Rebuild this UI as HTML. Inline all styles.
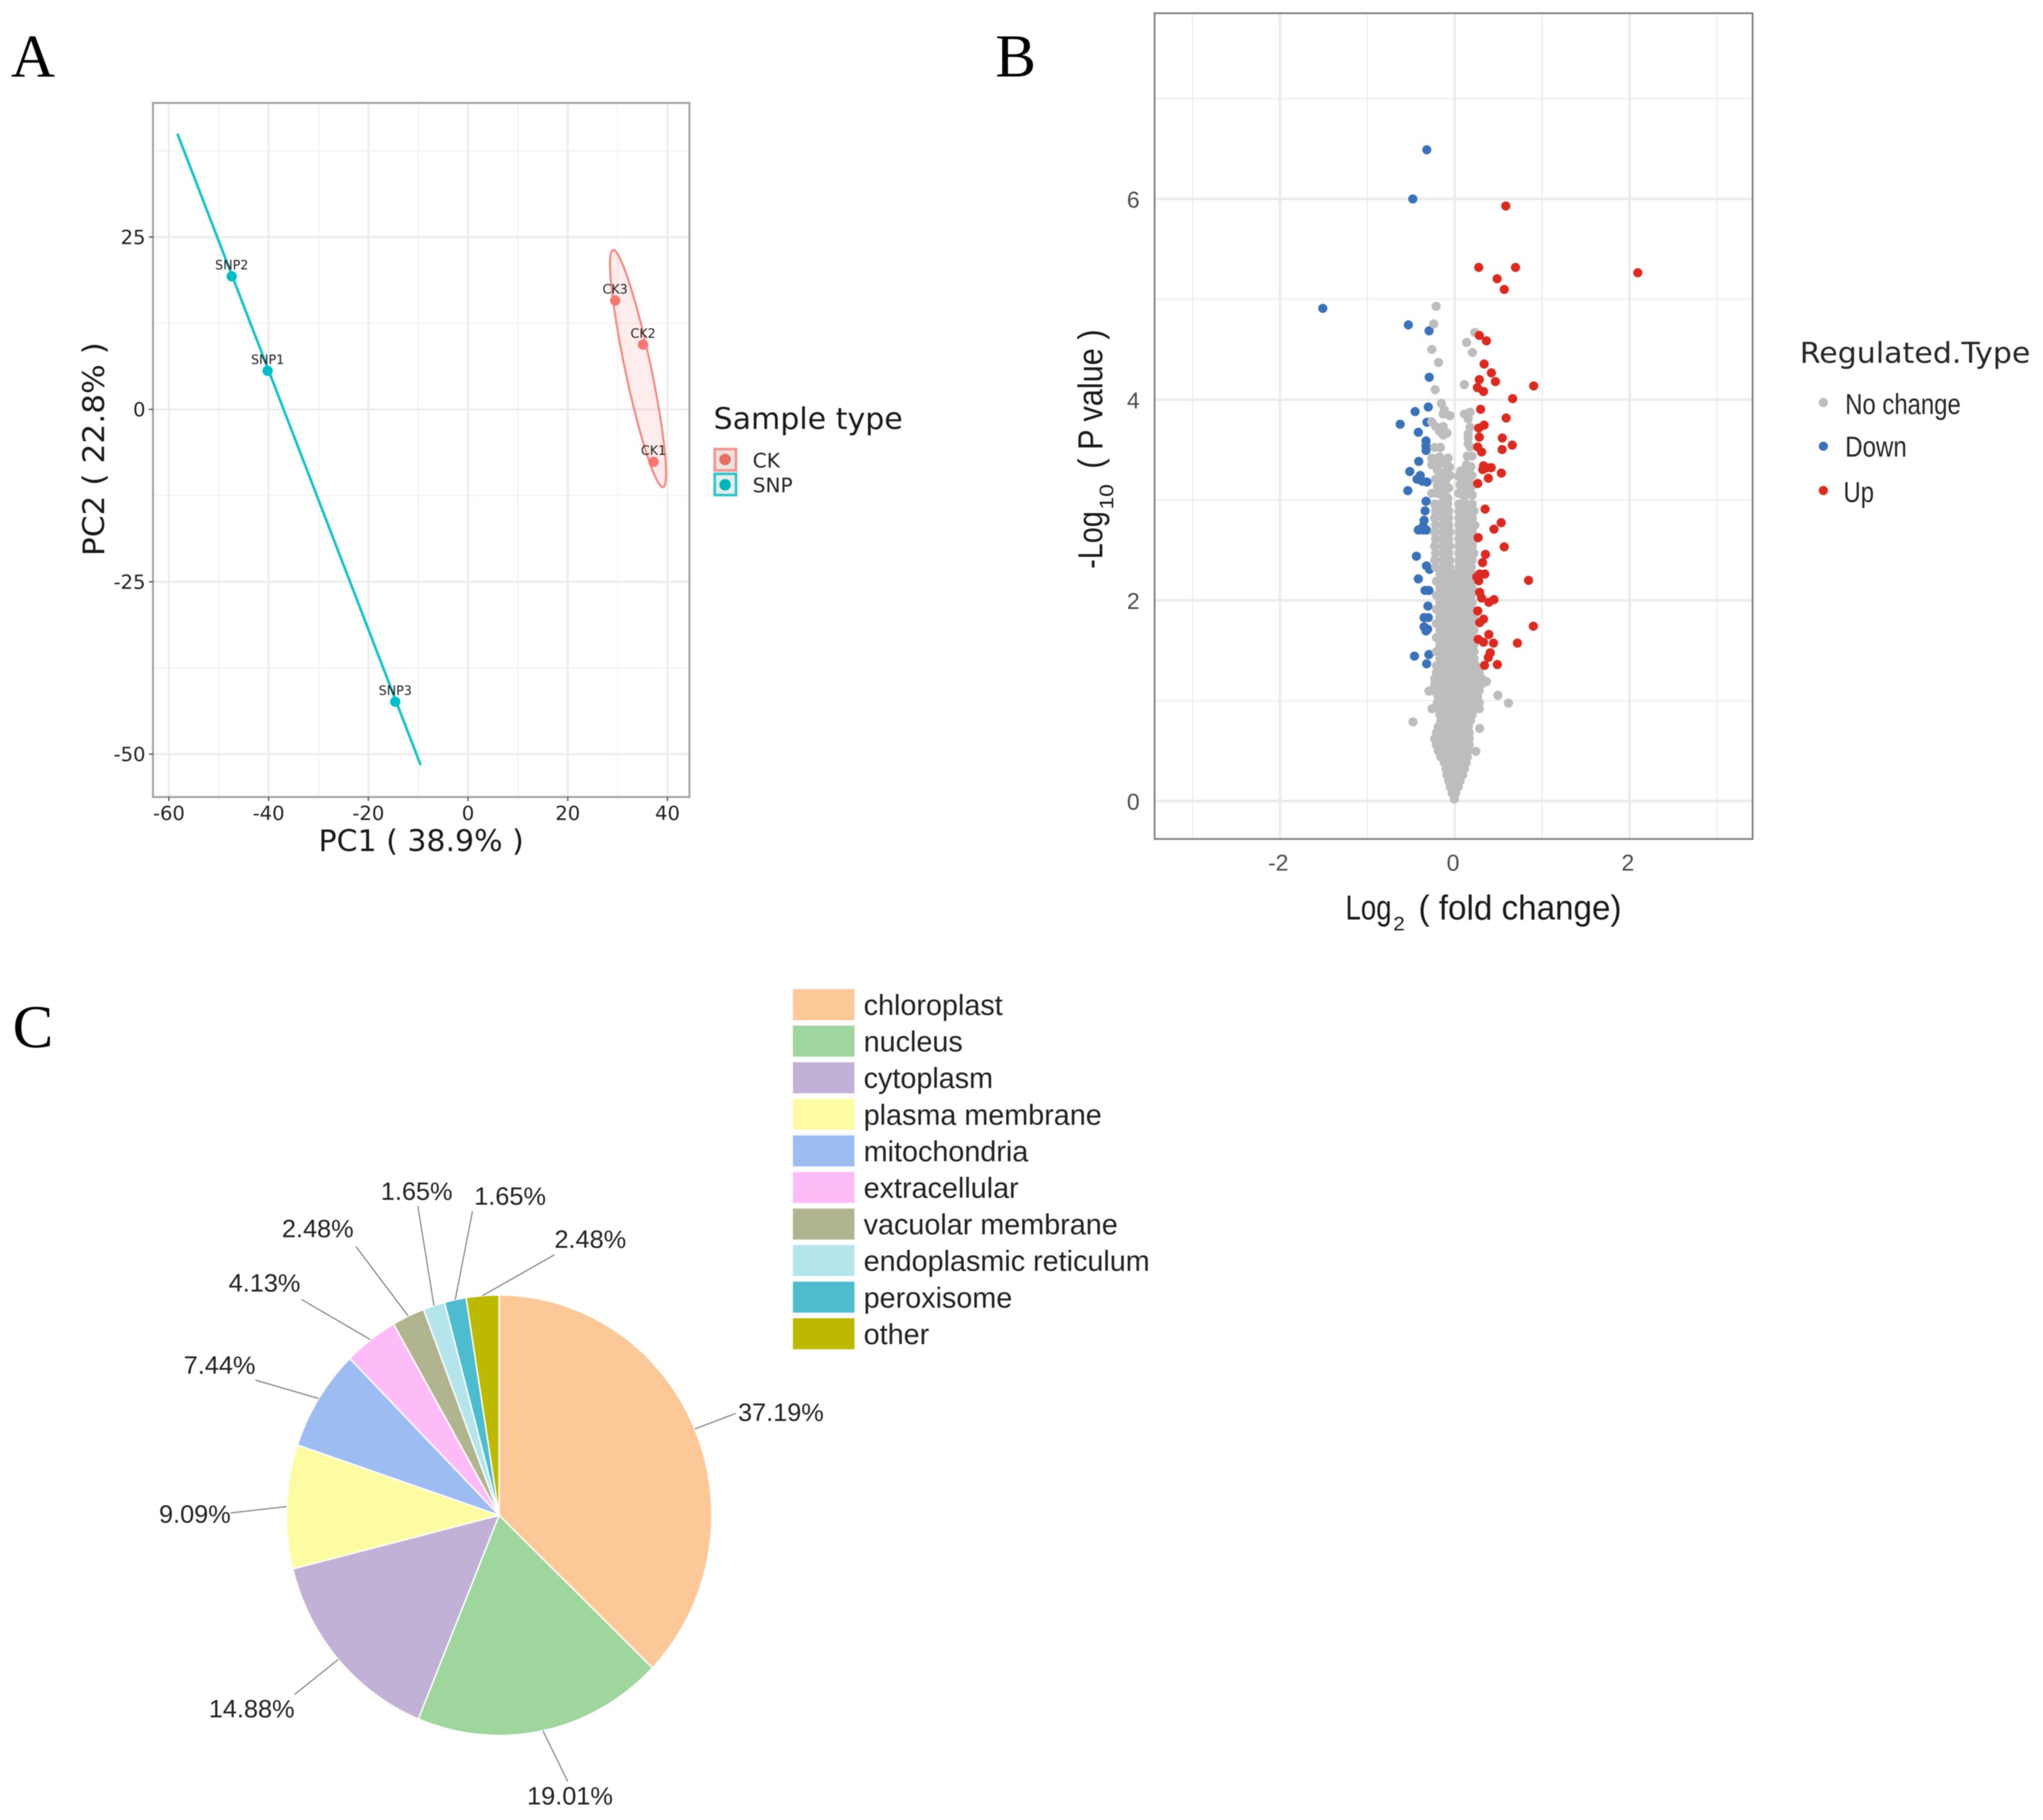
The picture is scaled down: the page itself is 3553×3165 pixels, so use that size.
<!DOCTYPE html>
<html lang="en">
<head>
<meta charset="utf-8">
<title>PCA, volcano plot and subcellular localization</title>
<style>
html,body{margin:0;padding:0;background:#fff;}
svg{display:block;filter:blur(0.8px);}
text{font-family:"Liberation Sans",sans-serif;}
.dv{font-family:"DejaVu Sans",sans-serif;}
.serif{font-family:"Liberation Serif",serif;fill:#000;font-size:106px;}
</style>
</head>
<body>
<svg id="fig" xmlns="http://www.w3.org/2000/svg" width="3553" height="3165" viewBox="0 0 3553 3165">
  <rect x="0" y="0" width="3553" height="3165" fill="#fff"/>
  <text class="serif" x="19" y="133">A</text>
  <text class="serif" x="1731" y="133">B</text>
  <text class="serif" x="22" y="1821">C</text>

  <g id="pcaGrid"></g>
  <g id="pcaMarks"></g>
  <rect x="266" y="179" width="933" height="1207" fill="none" stroke="#a3a3a3" stroke-width="3.5"/>
  <g id="pcaAxes"></g>
  <text class="dv" x="554" y="1480" font-size="52" fill="#1a1a1a" textLength="357" lengthAdjust="spacingAndGlyphs">PC1 ( 38.9% )</text>
  <text class="dv" transform="translate(181,967) rotate(-90)" font-size="52" fill="#1a1a1a" textLength="372" lengthAdjust="spacingAndGlyphs">PC2 ( 22.8% )</text>
  <g>
    <text class="dv" x="1241" y="746" font-size="52" fill="#1a1a1a" textLength="329" lengthAdjust="spacingAndGlyphs">Sample type</text>
    <rect x="1243" y="781" width="37" height="37" fill="#ebe3e1" stroke="#f5938b" stroke-width="4.5"/>
    <circle cx="1261" cy="799" r="10" fill="#e76f62"/>
    <text class="dv" x="1309" y="813" font-size="35" fill="#262626">CK</text>
    <rect x="1243" y="824" width="37" height="37" fill="#e6eded" stroke="#2cc6ca" stroke-width="4.5"/>
    <circle cx="1261" cy="843" r="10" fill="#00b8b8"/>
    <text class="dv" x="1309" y="856" font-size="35" fill="#262626">SNP</text>
  </g>

  <g id="volGrid"></g>
  <g id="volMarks"></g>
  <rect x="2008" y="23" width="1040" height="1436" fill="none" stroke="#7f7f7f" stroke-width="3"/>
  <g id="volAxes"></g>
  <g>
    <text x="2340" y="1599" font-size="60" fill="#1a1a1a" textLength="80" lengthAdjust="spacingAndGlyphs">Log</text>
    <text x="2423" y="1618" font-size="34" fill="#1a1a1a" textLength="20" lengthAdjust="spacingAndGlyphs">2</text>
    <text x="2467" y="1599" font-size="60" fill="#1a1a1a" textLength="353" lengthAdjust="spacingAndGlyphs">( fold change)</text>
  </g>
  <g>
    <text transform="translate(1917,989) rotate(-90)" font-size="60" fill="#1a1a1a" textLength="100" lengthAdjust="spacingAndGlyphs">-Log</text>
    <text transform="translate(1936,886) rotate(-90)" font-size="34" fill="#1a1a1a" textLength="44" lengthAdjust="spacingAndGlyphs">10</text>
    <text transform="translate(1917,815) rotate(-90)" font-size="60" fill="#1a1a1a" textLength="242" lengthAdjust="spacingAndGlyphs">( P value )</text>
  </g>
  <g>
    <text class="dv" x="3130" y="631" font-size="50" fill="#262626" textLength="401" lengthAdjust="spacingAndGlyphs">Regulated.Type</text>
    <circle cx="3171" cy="700" r="8" fill="#bdbdbd"/>
    <text x="3209" y="720" font-size="50" fill="#262626" textLength="201" lengthAdjust="spacingAndGlyphs">No change</text>
    <circle cx="3171" cy="776" r="8" fill="#3a72ba"/>
    <text x="3209" y="794" font-size="50" fill="#262626" textLength="107" lengthAdjust="spacingAndGlyphs">Down</text>
    <circle cx="3171" cy="853" r="8" fill="#dd2a20"/>
    <text x="3206" y="873" font-size="50" fill="#262626" textLength="53" lengthAdjust="spacingAndGlyphs">Up</text>
  </g>

  <g id="pie"></g>
  <g id="pieLegend"></g>
</svg>
<script>
/* ---------- Panel A data ---------- */
const pcaXTicks = [-60, -40, -20, 0, 20, 40];
const pcaXMinor = [-50, -30, -10, 10, 30];
const pcaYTicks = [25, 0, -25, -50];
const pcaYMinor = [37.5, 12.5, -12.5, -37.5];
const pcaSamples = ['SNP2', 'SNP1', 'SNP3', 'CK3', 'CK2', 'CK1'];
const pcaPC1 = [-47.4, -40.2, -14.6, 29.5, 35.1, 37.2];
const pcaPC2 = [19.3, 5.6, -42.4, 15.8, 9.4, -7.6];
const pcaGroups = ['SNP', 'SNP', 'SNP', 'CK', 'CK', 'CK'];
const snpEllipseX = [-58.3, -9.5];
const snpEllipseY = [40.0, -51.6];
const ckEllipseCentre = [34.1, 5.92];
const ckEllipseMajor = [-4.96, 17.2];
const ckEllipseMinor = [2.65, 0];

/* ---------- Panel B data: [log2 fold change, -log10 p] ---------- */
const volXTicks = [-2, 0, 2];
const volXMinor = [-3, -1, 1, 3];
const volYTicks = [0, 2, 4, 6];
const volYMinor = [1, 3, 5, 7];
const upPoints = [
[.584,5.93],[.274,5.318],[.695,5.318],[.485,5.205],[.566,5.098],[2.094,5.265],[.281,4.64],[.362,4.586],[.336,4.355],[.419,4.267],
[.281,4.20],[.465,4.18],[.903,4.137],[.259,4.12],[.329,4.082],[.662,4.01],[.296,3.904],[.588,3.817],[.336,3.746],[.274,3.717],
[.281,3.627],[.544,3.618],[.658,3.547],[.263,3.528],[.307,3.479],[.542,3.503],[.329,3.341],[.417,3.322],[.32,3.303],[.362,3.322],
[.533,3.268],[.384,3.217],[.263,3.165],[.347,2.909],[.531,2.774],[.449,2.709],[.268,2.625],[.566,2.533],[.351,2.458],[.318,2.376],
[.344,2.262],[.285,2.262],[.252,2.233],[.274,2.195],[.844,2.199],[.285,2.08],[.307,2.023],[.449,2.007],[.39,1.981],[.263,1.895],
[.329,1.813],[.285,1.778],[.899,1.742],[.39,1.66],[.268,1.612],[.329,1.583],[.443,1.574],[.717,1.574],[.406,1.478],[.384,1.431],
[.34,1.351],[.487,1.36]];
const downPoints = [
[-.32,6.49],[-.48,6.0],[-1.51,4.91],[-.531,4.745],[-.294,4.686],[-.292,4.223],[-.303,3.927],[-.454,3.881],[-.625,3.755],[-.318,3.775],
[-.417,3.675],[-.329,3.589],[-.33,3.54],[-.329,3.494],[-.412,3.385],[-.515,3.284],[-.395,3.245],[-.432,3.207],[-.373,3.188],[-.318,3.179],
[-.537,3.093],[-.329,2.987],[-.34,2.892],[-.351,2.797],[-.362,2.739],[-.417,2.701],[-.324,2.701],[-.368,2.701],[-.439,2.44],[-.324,2.344],
[-.289,2.309],[-.417,2.214],[-.34,2.099],[-.296,2.099],[-.307,1.943],[-.351,1.828],[-.303,1.828],[-.351,1.736],[-.311,1.713],[-.329,1.695],
[-.461,1.444],[-.296,1.46],[-.322,1.368]];
const noChangePoints = [
[-.213,4.93],[-.241,4.755],[-.263,4.50],[-.186,4.37],[-.224,4.10],[.23,4.67],[.136,4.57],[.202,4.47],[.11,4.15],
[.493,1.054],[.614,.976],[-.478,.789],[.285,.724],[.241,.495],[.362,1.19],[-.296,1.096],
[-.153,3.962],[-.12,3.897],[-.132,3.857],[-.055,3.84],[.11,3.857],[.175,3.875],[.153,3.81],[.175,3.725],[.153,3.66],[.153,3.618],[.153,3.56],[.175,3.53],
[-.263,3.78],[-.219,3.732],[-.132,3.732],[-.175,3.685],[-.088,3.667],[-.132,3.648],[-.23,3.524],[-.164,3.524],
[-.263,3.417],[-.175,3.43],[-.077,3.417],[-.263,3.351],[-.088,3.332],[-.132,3.265],[-.055,3.245],[-.219,3.207],[-.143,3.17],[-.11,3.093],[-.263,3.066],[-.197,3.066],[-.132,3.035],
[-.205,3.38],[-.18,3.36],[-.14,3.39],[-.2,3.3],[-.17,3.25],[-.1,3.2],[-.07,3.12],[-.06,3.33],[-.08,3.02],[-.2,3.14],[-.16,3.12],
[.143,3.437],[.197,3.437],[.132,3.351],[.186,3.332],[.11,3.245],[.197,3.245],[.044,3.236],[.15,3.29],[.044,3.066],[.132,3.112],[.197,3.14],[.11,3.035],[.2,3.05],[.06,3.15],[.09,3.18],[.16,3.19],[.07,3.29],
[-.23,2.96],[-.16,2.96],[-.08,2.96],[.05,2.96],[.13,2.96],[.2,2.96],
[-.22,2.89],[-.15,2.89],[-.07,2.89],[.05,2.89],[.12,2.89],[.19,2.89],[.22,2.89],
[-.23,2.82],[-.14,2.82],[-.07,2.82],[.05,2.82],[.13,2.82],[.2,2.82],
[-.22,2.75],[-.14,2.75],[-.07,2.75],[.05,2.75],[.12,2.75],[.19,2.75],[.23,2.75],
[-.23,2.68],[-.14,2.68],[-.06,2.68],[.05,2.68],[.13,2.68],[.2,2.68],
[-.22,2.61],[-.14,2.61],[-.07,2.61],[.05,2.61],[.12,2.61],[.19,2.61],[.23,2.61],
[-.23,2.54],[-.14,2.54],[-.06,2.54],[.05,2.54],[.13,2.54],[.2,2.54],
[-.22,2.47],[-.14,2.47],[-.07,2.47],[.05,2.47],[.12,2.47],[.19,2.47],[.22,2.47],
[-.23,2.40],[-.14,2.40],[-.06,2.40],[.05,2.40],[.13,2.40],[.2,2.40],
[-.22,2.33],[-.14,2.33],[-.06,2.33],[.05,2.33],[.12,2.33],[.19,2.33],
[-.17,2.26],[-.09,2.26],[-.01,2.26],[.07,2.26],[.15,2.26],[.2,2.26],
[-.21,2.19],[-.13,2.19],[-.05,2.19],[.03,2.19],[.11,2.19],[.19,2.19],
[-.17,2.12],[-.09,2.12],[-.01,2.12],[.07,2.12],[.15,2.12],[.2,2.12],
[-.21,2.05],[-.13,2.05],[-.05,2.05],[.03,2.05],[.11,2.05],[.19,2.05],
[-.17,1.98],[-.09,1.98],[-.01,1.98],[.07,1.98],[.15,1.98],[.2,1.98],
[-.21,1.91],[-.13,1.91],[-.05,1.91],[.03,1.91],[.11,1.91],[.19,1.91],
[-.17,1.84],[-.09,1.84],[-.01,1.84],[.07,1.84],[.15,1.84],[.22,1.84],
[-.21,1.77],[-.13,1.77],[-.05,1.77],[.03,1.77],[.11,1.77],[.19,1.77],
[-.17,1.70],[-.09,1.70],[-.01,1.70],[.07,1.70],[.15,1.70],[.22,1.70],
[-.21,1.63],[-.13,1.63],[-.05,1.63],[.03,1.63],[.11,1.63],[.19,1.63],
[-.17,1.56],[-.09,1.56],[-.01,1.56],[.07,1.56],[.15,1.56],[.22,1.56],
[-.21,1.49],[-.13,1.49],[-.05,1.49],[.03,1.49],[.11,1.49],[.19,1.49],[.22,1.49],
[-.17,1.42],[-.09,1.42],[-.01,1.42],[.07,1.42],[.15,1.42],[.22,1.42],
[-.21,1.35],[-.13,1.35],[-.05,1.35],[.03,1.35],[.11,1.35],[.19,1.35],[.24,1.35],
[-.21,1.28],[-.14,1.28],[-.07,1.28],[0,1.28],[.07,1.28],[.14,1.28],[.21,1.28],[.28,1.28],
[-.23,1.22],[-.16,1.22],[-.09,1.22],[-.02,1.22],[.05,1.22],[.12,1.22],[.19,1.22],[.26,1.22],[.31,1.22],
[-.23,1.16],[-.16,1.16],[-.09,1.16],[-.02,1.16],[.05,1.16],[.12,1.16],[.19,1.16],[.26,1.16],[.3,1.16],
[-.26,1.10],[-.19,1.10],[-.12,1.10],[-.05,1.10],[.02,1.10],[.09,1.10],[.16,1.10],[.23,1.10],[.28,1.10],
[-.19,1.04],[-.12,1.04],[-.05,1.04],[.02,1.04],[.09,1.04],[.16,1.04],[.23,1.04],[.26,1.04],
[-.2,.98],[-.13,.98],[-.06,.98],[.01,.98],[.08,.98],[.15,.98],[.22,.98],[.28,.98],
[-.26,.92],[-.19,.92],[-.12,.92],[-.05,.92],[.02,.92],[.09,.92],[.16,.92],[.23,.92],[.28,.92],
[-.17,.86],[-.1,.86],[-.03,.86],[.04,.86],[.11,.86],[.18,.86],[.2,.86],
[-.16,.80],[-.09,.80],[-.02,.80],[.05,.80],[.12,.80],[.18,.80],
[-.19,.74],[-.12,.74],[-.05,.74],[.02,.74],[.09,.74],[.155,.74],
[-.21,.68],[-.14,.68],[-.07,.68],[0,.68],[.07,.68],[.14,.68],[.165,.68],
[-.23,.62],[-.16,.62],[-.09,.62],[-.02,.62],[.05,.62],[.12,.62],[.165,.62],
[-.21,.56],[-.14,.56],[-.07,.56],[0,.56],[.07,.56],[.14,.56],[.165,.56],
[-.19,.50],[-.12,.50],[-.05,.50],[.02,.50],[.09,.50],[.15,.50],
[-.16,.44],[-.09,.44],[-.02,.44],[.05,.44],[.12,.44],[.145,.44],
[-.12,.38],[-.05,.38],[.02,.38],[.09,.38],[.13,.38],
[-.10,.32],[-.04,.32],[.02,.32],[.08,.32],[.11,.32],
[-.09,.26],[-.03,.26],[.03,.26],[.09,.26],
[-.07,.20],[-.01,.20],[.06,.20],
[-.05,.14],[0,.14],[.04,.14],
[-.03,.08],[.01,.08],
[-.005,.02]];

/* ---------- Panel C data ---------- */
const pieCategories = ['chloroplast','nucleus','cytoplasm','plasma membrane','mitochondria','extracellular','vacuolar membrane','endoplasmic reticulum','peroxisome','other'];
const pieValues = [37.19, 19.01, 14.88, 9.09, 7.44, 4.13, 2.48, 1.65, 1.65, 2.48];
const pieLabels = ['37.19%','19.01%','14.88%','9.09%','7.44%','4.13%','2.48%','1.65%','1.65%','2.48%'];

/* ---------- Styling and layout (not data) ---------- */
const pieFills = ['#fdc897','#9fd69d','#c2b1d6','#fdfca3','#9dbcf2','#fdbcf8','#b1b58f','#b5e5ec','#4dbccf','#bcb900'];
const leaderLayout = [
 {dx:71,dy:-27,a:'start',tx:4,ty:13},{dx:43,dy:88,a:'middle',tx:4,ty:40},{dx:-76,dy:61,a:'end',tx:0,ty:40},
 {dx:-97,dy:11,a:'end',tx:0,ty:17},{dx:-110,dy:-32,a:'end',tx:0,ty:-11},{dx:-120,dy:-70,a:'end',tx:-2,ty:-14},
 {dx:-91,dy:-121,a:'end',tx:-4,ty:-16},{dx:-28,dy:-173,a:'middle',tx:-2,ty:-11},{dx:30,dy:-154,a:'start',tx:3,ty:-11},
 {dx:125,dy:-71,a:'start',tx:0,ty:-12}];

const NS = 'http://www.w3.org/2000/svg';
function mk(parent, tag, attrs, txt) {
  const el = document.createElementNS(NS, tag);
  for (const k in attrs) el.setAttribute(k, attrs[k]);
  if (txt !== undefined) el.textContent = txt;
  document.getElementById(parent).appendChild(el);
  return el;
}

/* ---------- Panel A ---------- */
const ax = v => 814 + 8.671 * v;
const ay = v => 712 - 11.99 * v;
const A = {l:266, r:1199, t:179, b:1386};
pcaXMinor.forEach(v => {
  const el = mk('pcaGrid','line',{x1:ax(v),x2:ax(v),y1:A.t,y2:A.b,stroke:'#f3f3f3','stroke-width':2.5});
  
  
});
pcaYMinor.forEach(v => {
  const el = mk('pcaGrid','line',{x1:A.l,x2:A.r,y1:ay(v),y2:ay(v),stroke:'#f3f3f3','stroke-width':2.5});
  
  
});
pcaXTicks.forEach(v => {
  const el = mk('pcaGrid','line',{x1:ax(v),x2:ax(v),y1:A.t,y2:A.b,stroke:'#ececec','stroke-width':3.5});
  
  
  const tk = mk('pcaAxes','line',{x1:ax(v),x2:ax(v),y1:A.b,y2:A.b+7,stroke:'#444','stroke-width':2});
  
  
  const lb = mk('pcaAxes','text',{x:ax(v),y:1426,'text-anchor':'middle','font-size':34,fill:'#222',class:'dv'},String(v));
  
  
});
pcaYTicks.forEach(v => {
  const el = mk('pcaGrid','line',{x1:A.l,x2:A.r,y1:ay(v),y2:ay(v),stroke:'#ececec','stroke-width':3.5});
  
  
  const tk = mk('pcaAxes','line',{x1:A.l-7,x2:A.l,y1:ay(v),y2:ay(v),stroke:'#444','stroke-width':2});
  
  
  const lb = mk('pcaAxes','text',{x:253,y:ay(v)+12,'text-anchor':'end','font-size':34,fill:'#222',class:'dv'},String(v));
  
  
});
const ellipsePts = [];
for (let i = 0; i < 96; i++) {
  const t = i / 96 * 2 * Math.PI;
  const dxv = ckEllipseMajor[0] * Math.cos(t) + ckEllipseMinor[0] * Math.sin(t);
  const dyv = ckEllipseMajor[1] * Math.cos(t) + ckEllipseMinor[1] * Math.sin(t);
  ellipsePts.push(ax(ckEllipseCentre[0] + dxv).toFixed(1) + ',' + ay(ckEllipseCentre[1] + dyv).toFixed(1));
}
const ckEl = mk('pcaMarks','polygon',{points:ellipsePts.join(' '),fill:'#f8766d','fill-opacity':0.13,stroke:'#f8867d','stroke-width':3.5});


const snpEl = mk('pcaMarks','line',{x1:ax(snpEllipseX[0]),y1:ay(snpEllipseY[0]),x2:ax(snpEllipseX[1]),y2:ay(snpEllipseY[1]),stroke:'#12c3c8','stroke-width':4.5});


pcaSamples.forEach((s, i) => {
  const c = mk('pcaMarks','circle',{cx:ax(pcaPC1[i]),cy:ay(pcaPC2[i]),r:9,fill:pcaGroups[i] === 'CK' ? '#f8766d' : '#00bfc4'});
  
  
  const t = mk('pcaMarks','text',{x:ax(pcaPC1[i]),y:ay(pcaPC2[i])-12,'text-anchor':'middle','font-size':22,fill:'#222',class:'dv'},s);
  
  
});

/* ---------- Panel B ---------- */
const bx = v => 2530 + 152 * v;
const by = v => 1393 - 174.5 * v;
const B = {l:2008, r:3048, t:23, b:1459};
volXMinor.forEach(v => {
  const el = mk('volGrid','line',{x1:bx(v),x2:bx(v),y1:B.t,y2:B.b,stroke:'#f1f1f1','stroke-width':3});
  
  
});
volYMinor.forEach(v => {
  const el = mk('volGrid','line',{x1:B.l,x2:B.r,y1:by(v),y2:by(v),stroke:'#f1f1f1','stroke-width':3});
  
  
});
volXTicks.forEach(v => {
  const el = mk('volGrid','line',{x1:bx(v),x2:bx(v),y1:B.t,y2:B.b,stroke:'#ebebeb','stroke-width':4.5});
  
  
  const lb = mk('volAxes','text',{x:bx(v)-3,y:1514,'text-anchor':'middle','font-size':40,fill:'#4d4d4d'},String(v));
  
  
});
volYTicks.forEach(v => {
  const el = mk('volGrid','line',{x1:B.l,x2:B.r,y1:by(v),y2:by(v),stroke:'#ebebeb','stroke-width':4.5});
  
  
  const lb = mk('volAxes','text',{x:1982,y:by(v)+15,'text-anchor':'end','font-size':40,fill:'#4d4d4d'},String(v));
  
  
});
downPoints.forEach(p => {
  const c = mk('volMarks','circle',{cx:bx(p[0]),cy:by(p[1]),r:8,fill:'#3a72ba'});
  
  
});
noChangePoints.forEach(p => {
  const c = mk('volMarks','circle',{cx:bx(p[0]),cy:by(p[1]),r:8,fill:'#bdbdbd'});
  
  
});
upPoints.forEach(p => {
  const c = mk('volMarks','circle',{cx:bx(p[0]),cy:by(p[1]),r:8,fill:'#dd2a20'});
  
  
});

/* ---------- Panel C ---------- */
const PIE = {cx:868, cy:2635, rx:370, ry:383};
const pieTotal = pieValues.reduce((a, b) => a + b, 0);
const pieX = th => PIE.cx + PIE.rx * Math.sin(th);
const pieY = th => PIE.cy - PIE.ry * Math.cos(th);
let pieCum = 0;
pieValues.forEach((v, i) => {
  const th0 = pieCum / pieTotal * 2 * Math.PI;
  pieCum += v;
  const th1 = pieCum / pieTotal * 2 * Math.PI;
  const large = (th1 - th0) > Math.PI ? 1 : 0;
  const d = 'M' + PIE.cx + ' ' + PIE.cy + ' L' + pieX(th0) + ' ' + pieY(th0) + ' A' + PIE.rx + ' ' + PIE.ry + ' 0 ' + large + ' 1 ' + pieX(th1) + ' ' + pieY(th1) + ' Z';
  const s = mk('pie','path',{d:d,fill:pieFills[i],stroke:'#fff','stroke-width':2.5});
  
  
  const mid = (th0 + th1) / 2;
  const lay = leaderLayout[i];
  const sx = pieX(mid), sy = pieY(mid);
  const ex = sx + lay.dx, ey = sy + lay.dy;
  const l = mk('pie','line',{x1:sx,y1:sy,x2:ex,y2:ey,stroke:'#808080','stroke-width':2});
  
  
  const t = mk('pie','text',{x:ex+lay.tx,y:ey+lay.ty,'text-anchor':lay.a,'font-size':44,fill:'#222'},pieLabels[i]);
  
  
});
pieCategories.forEach((name, i) => {
  const yc = 1747 + 63.6 * i;
  const r = mk('pieLegend','rect',{x:1379,y:yc-27,width:107,height:54,fill:pieFills[i]});
  
  
  const t = mk('pieLegend','text',{x:1502,y:yc+18,'font-size':50,fill:'#222'},name);
  
  
});
</script>
</body>
</html>
